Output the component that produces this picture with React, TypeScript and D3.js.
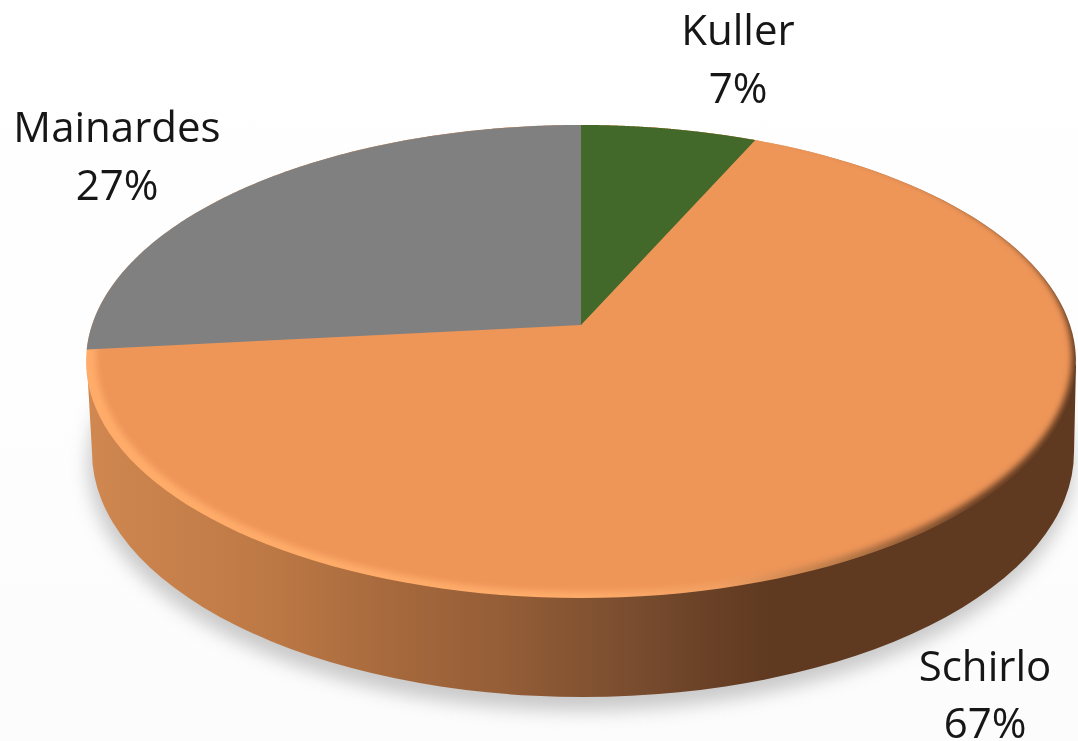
import React from "react";
import * as d3 from "d3";

const categories = ["Kuller", "Schirlo", "Mainardes"];
const values = [1, 10, 4];
const percentLabels = ["7%", "67%", "27%"];
const colors = ["#43682B", "#EE9558", "#808080"];
const sideOffsets = [0, 0.18, 0.315, 0.416, 0.548, 0.622, 0.692, 1];
const sideColors = ["#D08750", "#BD7945", "#A5683C", "#955E37", "#7A4D2F", "#6B4227", "#5F3920", "#5F3920"];
const rimOffsets = [0, 0.5, 0.64, 0.76, 0.9, 1];
const rimColors = ["#FFAC6A", "#FFAC6A", "#F2A063", "#B97A48", "#6A4025", "#5F3920"];
const labelX = [738, 985, 117];
const labelNameY = [45, 681, 142];
const labelPctY = [103, 738, 200];

const W = 1078, H = 741;
// Tilted-disc projection: apex of the wedges is off the ellipse centre, as in the perspective 3D pie.
const apexX = 581, apexY = 325, tiltQ = 0.1543, ax = 489, ay = 230.9;
const project = (theta: number, r = 1): [number, number] => {
  const u = r * Math.sin(theta), v = r * Math.cos(theta), w = 1 + tiltQ * v;
  return [apexX + (ax * u) / w, apexY - (ay * v) / w];
};
const arcPoints = (a0: number, a1: number) =>
  d3.range(0, 181).map(i => project(a0 + ((a1 - a0) * i) / 180));
const line = d3.line();

export default function App() {
  const pie = d3.pie<number>().sort(null).value(d => d)(values);
  const disc = line(arcPoints(0, 2 * Math.PI))! + "Z";
  const wedge = (a0: number, a1: number) =>
    "M" + apexX + "," + apexY + "L" + line(arcPoints(a0, a1))!.slice(1) + "Z";
  const bx = 583, by = 452, brx = 491, bry = 245;
  const bottomD = `M87,365 L${bx - brx},${by} A${brx},${bry} 0 0 0 ${bx + brx},${by} L1076,365 Z`;
  const sideScaleX = d3.scaleLinear().domain([0, 1]).range([90, 1075]);
  return (
    <svg width={W} height={H} style={{ position: "absolute", left: 0, top: 0 }}>
      <defs>
        <linearGradient id="bg" x1="0" y1="0" x2="0" y2="1">
          <stop offset="0" stopColor="#FFFFFF" />
          <stop offset="0.4" stopColor="#FEFEFE" />
          <stop offset="1" stopColor="#FCFCFC" />
        </linearGradient>
        <linearGradient id="side" gradientUnits="userSpaceOnUse" x1={sideScaleX(0)} y1="0" x2={sideScaleX(1)} y2="0">
          {sideOffsets.map((o, i) => <stop key={o} offset={o} stopColor={sideColors[i]} />)}
        </linearGradient>
        <linearGradient id="rim" gradientUnits="userSpaceOnUse" x1={sideScaleX(0)} y1="0" x2={sideScaleX(1)} y2="0">
          {rimOffsets.map((o, i) => <stop key={o} offset={o} stopColor={rimColors[i]} />)}
        </linearGradient>
        <filter id="shadow" x="-10%" y="-10%" width="120%" height="130%"><feGaussianBlur stdDeviation="9" /></filter>
        <filter id="soft" x="-3%" y="-3%" width="106%" height="106%"><feGaussianBlur stdDeviation="3" /></filter>
        <filter id="txt"><feGaussianBlur stdDeviation="0.45" /></filter>
        <clipPath id="discClip"><path d={disc} /></clipPath>
      </defs>
      <rect width={W} height={H} fill="url(#bg)" />
      <ellipse cx={bx - 2} cy={by + 12} rx={brx + 2} ry={bry + 2} fill="#A8A8A8" opacity={0.6} filter="url(#shadow)" />
      <path d={bottomD} fill="url(#side)" />
      <path d={disc} fill="url(#rim)" />
      <g clipPath="url(#discClip)">
        <ellipse cx={apexX + 3} cy={357} rx={488} ry={235} fill={colors[1]} filter="url(#soft)" />
      </g>
      {pie.map((p, i) => i === 1 ? null : (
        <path key={categories[i]} d={wedge(p.startAngle, p.endAngle)} fill={colors[i]} filter="url(#txt)" />
      ))}
      {categories.map((c, i) => (
        <text key={c} textAnchor="middle" fontSize={42} fill="#151515" filter="url(#txt)"
          style={{ fontFamily: "'Open Sans', sans-serif" }}>
          <tspan x={labelX[i]} y={labelNameY[i]}>{c}</tspan>
          <tspan x={labelX[i]} y={labelPctY[i]}>{percentLabels[i]}</tspan>
        </text>
      ))}
    </svg>
  );
}
